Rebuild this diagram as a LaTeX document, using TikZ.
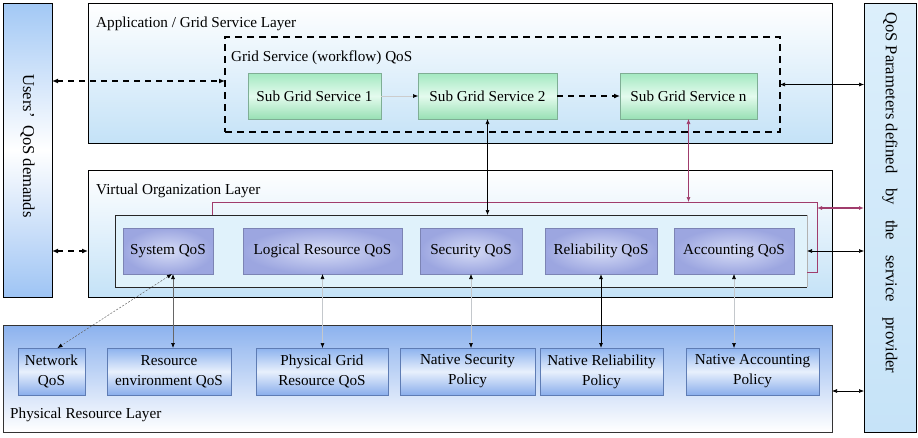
\documentclass[tikz,border=0pt]{standalone}
\usepackage{fontspec}
\setmainfont{Liberation Serif}
\usetikzlibrary{arrows.meta}

\definecolor{layerlo}{HTML}{C4E2F7}
\definecolor{innerfill}{HTML}{E0F2FB}
\definecolor{sgedge}{HTML}{7FAE95}
\definecolor{sgtop}{HTML}{A2E8C0}
\definecolor{sgmid}{HTML}{E4FBEE}
\definecolor{sgbot}{HTML}{98E0B4}
\definecolor{qosin}{HTML}{D6DCF6}
\definecolor{qosout}{HTML}{9CA6E0}
\definecolor{qosedge}{HTML}{7C84B4}
\definecolor{prtop}{HTML}{8CB2EE}
\definecolor{prmid}{HTML}{E8F0FC}
\definecolor{prbot}{HTML}{8AAEEC}
\definecolor{predge}{HTML}{5E7CB4}
\definecolor{usertop}{HTML}{A2C8F5}
\definecolor{userbot}{HTML}{9EC4F4}
\definecolor{provtop}{HTML}{DCEFFB}
\definecolor{provbot}{HTML}{C6E3F8}
\definecolor{bus}{HTML}{A03C6C}
\definecolor{faint}{HTML}{C4C8CC}

\begin{document}
\begin{tikzpicture}[x=1pt,y=-1pt,
  font=\fontsize{15.2}{17}\selectfont,
  blk/.style={inner sep=0pt, outer sep=0pt, anchor=north west},
  layer/.style={blk, draw=black, line width=1pt, top color=white, bottom color=layerlo},
  sgbox/.style={blk, draw=sgedge, line width=0.6pt, top color=sgtop, bottom color=sgbot, middle color=sgmid, minimum height=46pt},
  qosbox/.style={blk, draw=qosedge, line width=0.6pt, inner color=qosin, outer color=qosout, minimum height=46pt},
  prbox/.style={blk, draw=predge, line width=0.6pt, top color=prtop, bottom color=prbot, middle color=prmid, minimum height=47pt, align=center, font=\fontsize{15.2}{20}\selectfont},
  title/.style={anchor=base west, inner sep=0pt},
  vtext/.style={rotate=-90, inner sep=0pt, font=\fontsize{16.6}{18}\selectfont},
  link/.style={line width=0.6pt, {Latex[length=5pt,width=4pt]}-{Latex[length=5pt,width=4pt]}},
  dlink/.style={line width=1.3pt, dash pattern=on 6pt off 5pt, {Latex[length=6pt,width=5pt]}-{Latex[length=6pt,width=5pt]}},
]
\useasboundingbox (0,0) rectangle (918,437);

% side panels
\node[blk, draw=black, line width=1pt, top color=usertop, bottom color=userbot, middle color=white,
      minimum width=49pt, minimum height=294pt] (users) at (3,3) {};
\node[vtext] at ([yshift=4pt]users.center) {Users’\hspace{0.45em}QoS demands};
\node[blk, draw=black, line width=1pt, top color=provtop, bottom color=provbot,
      minimum width=52pt, minimum height=429pt] (prov) at (864,3) {};
\node[vtext, anchor=west] at (890,12)
  {QoS Parameters defined\hspace{0.9em}by\hspace{0.9em}the\hspace{0.9em}service\hspace{0.9em}provider};

% application / grid service layer
\node[layer, minimum width=744pt, minimum height=140pt] (app) at (88,3) {};
\node[title] at (96,27) {Application / Grid Service Layer};
\node[blk, draw=black, line width=1.3pt, dash pattern=on 7pt off 5pt,
      minimum width=555pt, minimum height=95pt] (wf) at (225,37) {};
\node[title] at (231,61) {Grid Service (workflow) QoS};
\node[sgbox, minimum width=133pt] (sg1) at (248,73) {Sub Grid Service 1};
\node[sgbox, minimum width=139pt] (sg2) at (418,73) {Sub Grid Service 2};
\node[sgbox, minimum width=137pt] (sgn) at (620,73) {Sub Grid Service n};

% virtual organization layer
\node[layer, minimum width=744pt, minimum height=127pt] (vo) at (88,170) {};
\node[title] at (96,194) {Virtual Organization Layer};
\node[blk, fill=innerfill, minimum width=692pt, minimum height=72pt] (inner) at (115,215) {};
\draw[line width=0.8pt, black!85] (inner.north east) -- (inner.north west) -- (inner.south west) -- (inner.south east);
\draw[line width=0.8pt, black!30] (inner.north east) -- (inner.south east);
\node[qosbox, minimum width=90pt] (sys) at (123,228) {System QoS};
\node[qosbox, minimum width=159pt] (lrq) at (243,228) {Logical Resource QoS};
\node[qosbox, minimum width=102pt] (secq) at (420,228) {Security QoS};
\node[qosbox, minimum width=112pt] (relq) at (545,228) {Reliability QoS};
\node[qosbox, minimum width=120pt] (accq) at (674,228) {Accounting QoS};

% physical resource layer
\node[blk, draw=black!80, line width=1pt, top color=prtop, bottom color=white,
      minimum width=829pt, minimum height=107pt] (pr) at (3,325) {};
\node[title] at (10,418) {Physical Resource Layer};
\node[prbox, minimum width=67pt] (net) at (18,348) {Network\\QoS};
\node[prbox, minimum width=124pt] (renv) at (107,348) {Resource\\environment QoS};
\node[prbox, minimum width=132pt] (pgr) at (256,348) {Physical Grid\\Resource QoS};
\node[prbox, minimum width=135pt] (nsec) at (400,348) {Native Security\\Policy};
\node[prbox, minimum width=123pt] (nrel) at (540,348) {Native Reliability\\Policy};
\node[prbox, minimum width=133pt] (nacc) at (686,348) {Native Accounting\\Policy};

% workflow connectors
\draw[line width=0.6pt, black!20, -{Latex[length=5pt,width=4pt,color=black]}] (sg1.east) -- (sg2.west);
\draw[line width=1.3pt, dash pattern=on 6pt off 5pt, -{Latex[length=6pt,width=5pt]}] (sg2.east) -- (sgn.west);
\draw[dlink] ([yshift=3.5pt]users.east |- wf.west) -- ([yshift=3.5pt]wf.west);
\draw[link] (wf.east) -- (wf.east -| prov.west);

% service bus joining the VO layer to the provider
\coordinate (busA) at (212,202);
\coordinate (busB) at (817,202);
\coordinate (busC) at (817,272);
\draw[bus, line width=1pt] (busA |- inner.north) -- (busA) -- (busB) -- (busC) -- (busC -| inner.east);
\draw[bus, link, line width=1.4pt] (817,208) coordinate (busR) -- (busR -| prov.west);
\draw[bus, link] (sgn.south) -- (sgn.south |- busA);
\draw[link] (sg2.south) -- (sg2.south |- inner.north);

% VO layer to the users and the provider
\draw[dlink] (users.east |- accq.east) -- (vo.west |- accq.east);
\draw[link] (inner.east |- accq.east) -- (prov.west |- accq.east);

% VO QoS down to the physical resources
\draw[line width=0.5pt, black!60, dash pattern=on 2pt off 1.5pt, {Latex[length=5pt,width=4pt,color=black]}-{Latex[length=5pt,width=4pt,color=black]}]
  ([xshift=4pt]sys.south) -- ([xshift=6pt]net.north);
\draw[line width=0.7pt, black!60, {Latex[length=5pt,width=4pt,color=black]}-{Latex[length=5pt,width=4pt,color=black]}]
  ([xshift=5pt]sys.south) -- ([xshift=5pt]sys.south |- renv.north);
\draw[line width=0.6pt, faint, {Latex[length=5pt,width=4pt,color=black]}-{Latex[length=5pt,width=4pt,color=black]}]
  (lrq.south) -- (lrq.south |- pgr.north);
\draw[line width=0.6pt, faint, {Latex[length=5pt,width=4pt,color=black]}-{Latex[length=5pt,width=4pt,color=black]}]
  (secq.south) -- (secq.south |- nsec.north);
\draw[link, line width=0.8pt] (relq.south) -- (relq.south |- nrel.north);
\draw[line width=0.6pt, faint, {Latex[length=5pt,width=4pt,color=black]}-{Latex[length=5pt,width=4pt,color=black]}]
  (accq.south) -- (accq.south |- nacc.north);

% physical layer to the provider
\draw[link] ([yshift=-12.5pt]pr.east) -- ([yshift=-12.5pt]pr.east -| prov.west);
\end{tikzpicture}
\end{document}
